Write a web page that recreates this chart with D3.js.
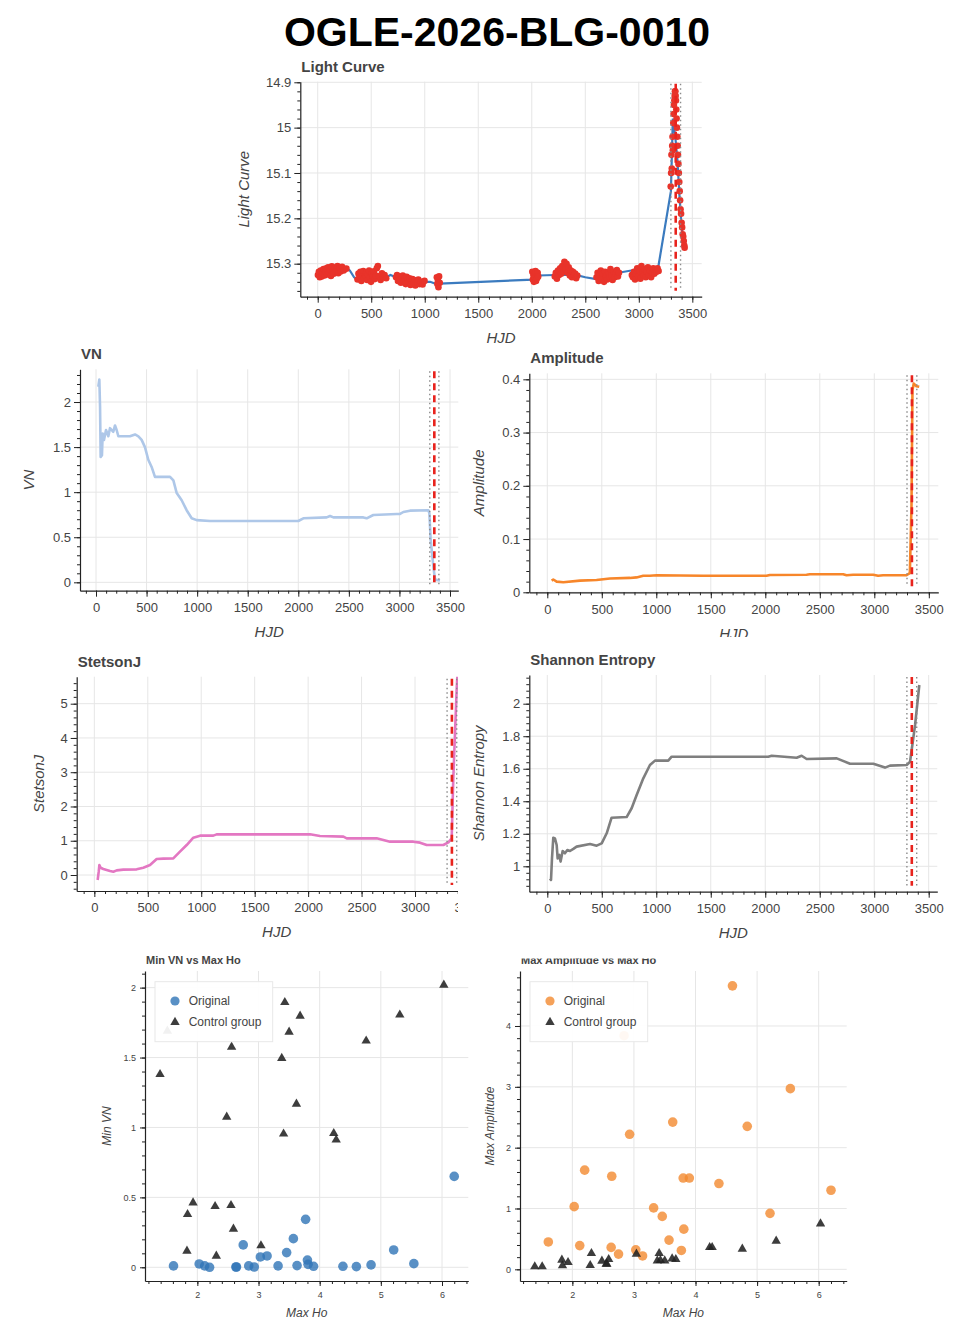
<!DOCTYPE html>
<html>
<head>
<meta charset="utf-8">
<script src="https://cdn.jsdelivr.net/npm/d3@7"></script>
<style>
body { margin: 0; background: #fff; }
text { font-family: "Liberation Sans", Arial, Helvetica, sans-serif; }
</style>
</head>
<body>
<svg id="chart" width="970" height="1337"></svg>
<script>
// ---- light curve: observed points (HJD, magnitude) ----
var lcHJD = [
	2, 11, 19, 28, 37, 45, 54, 63, 71, 80, 89, 97, 106, 115, 124, 132, 141, 150, 158, 167, 176, 185, 193, 202, 214, 228, 243, 268,
	372, 381, 390, 399, 408, 417, 426, 435, 444, 453, 462, 471, 480, 489, 498, 507, 516, 525, 534, 543, 552, 562, 575, 588, 600, 612, 625, 640,
	732, 741, 750, 759, 768, 777, 786, 795, 804, 813, 822, 831, 840, 849, 858, 867, 876, 885, 894, 903, 912, 921, 930, 940, 952, 965, 980, 998,
	1113, 1118, 1123, 1128, 1134, 1140,
	2005, 2010, 2015, 2020, 2025, 2030, 2035, 2040, 2045, 2050, 2055, 2060,
	2215, 2225, 2235, 2245, 2255, 2265, 2275, 2285, 2295, 2305, 2315, 2325, 2335, 2345, 2355, 2365, 2375, 2385, 2395, 2405, 2415, 2425,
	2605, 2615, 2625, 2635, 2645, 2655, 2665, 2675, 2685, 2695, 2705, 2715, 2725, 2735, 2745, 2755, 2765, 2775, 2785, 2795, 2805, 2815,
	2935, 2945, 2955, 2965, 2975, 2985, 2995, 3005, 3015, 3025, 3035, 3045, 3055, 3065, 3075, 3085, 3095, 3105, 3115, 3125, 3135, 3145, 3155, 3165, 3175, 3185,
	3298, 3302, 3305, 3308, 3312, 3315, 3318, 3322, 3325, 3328, 3332, 3335, 3338, 3341, 3344, 3347, 3350, 3353, 3356, 3360, 3363, 3366, 3370, 3374, 3378, 3382, 3386, 3390, 3395, 3400, 3405, 3410, 3415, 3420, 3425, 3428
];
var lcMag = [
	15.325, 15.318, 15.33, 15.315, 15.328, 15.32, 15.312, 15.326, 15.317, 15.31, 15.324, 15.308, 15.319, 15.314, 15.327, 15.306, 15.316, 15.322, 15.309, 15.318, 15.313, 15.305, 15.321, 15.31, 15.317, 15.307, 15.315, 15.311,
	15.335, 15.322, 15.33, 15.318, 15.338, 15.325, 15.316, 15.332, 15.327, 15.32, 15.336, 15.324, 15.315, 15.33, 15.34, 15.322, 15.328, 15.317, 15.334, 15.326, 15.31, 15.305, 15.328, 15.336, 15.321, 15.33, 15.325, 15.332,
	15.33, 15.325, 15.338, 15.328, 15.335, 15.342, 15.33, 15.326, 15.338, 15.333, 15.345, 15.329, 15.336, 15.341, 15.332, 15.347, 15.338, 15.334, 15.344, 15.336, 15.348, 15.339, 15.342, 15.335, 15.345, 15.34, 15.346, 15.338,
	15.33, 15.345, 15.338, 15.352, 15.328, 15.342,
	15.318, 15.335, 15.325, 15.34, 15.322, 15.33, 15.316, 15.338, 15.327, 15.332, 15.32, 15.328,
	15.328, 15.32, 15.333, 15.315, 15.325, 15.31, 15.322, 15.305, 15.318, 15.296, 15.312, 15.3, 15.32, 15.308, 15.326, 15.315, 15.33, 15.318, 15.325, 15.322, 15.332, 15.326,
	15.33, 15.32, 15.338, 15.325, 15.315, 15.333, 15.322, 15.34, 15.318, 15.328, 15.335, 15.32, 15.33, 15.312, 15.326, 15.336, 15.318, 15.33, 15.322, 15.314, 15.328, 15.32,
	15.325, 15.33, 15.318, 15.335, 15.322, 15.31, 15.328, 15.316, 15.333, 15.305, 15.32, 15.326, 15.312, 15.33, 15.318, 15.308, 15.325, 15.315, 15.33, 15.32, 15.31, 15.322, 15.314, 15.318, 15.31, 15.316,
	15.13, 15.10, 15.06, 15.09, 15.04, 15.02, 15.05, 14.99, 14.97, 14.95, 14.94, 14.93, 14.92, 14.92, 14.93, 14.94, 14.96, 14.98, 15.00, 15.02, 15.04, 15.06, 15.08, 15.10, 15.12, 15.14, 15.16, 15.18, 15.19, 15.21, 15.22, 15.235, 15.24, 15.25, 15.26, 15.265
];
// blue model line through the light curve
var lineHJD = [0, 100, 200, 270, 300, 340, 370, 640, 680, 730, 1000, 1050, 1110, 1140, 2010, 2060, 2220, 2400, 2500, 2600, 2810, 2930, 3180, 3300, 3318, 3330, 3345, 3360, 3380, 3400, 3425];
var lineMag = [15.322, 15.318, 15.312, 15.31, 15.315, 15.33, 15.335, 15.33, 15.325, 15.33, 15.34, 15.34, 15.345, 15.344, 15.335, 15.326, 15.325, 15.324, 15.33, 15.334, 15.32, 15.315, 15.31, 15.14, 14.98, 15.0, 15.03, 15.07, 15.15, 15.22, 15.26];

// ---- running features vs HJD ----
var vnHJD = [23, 33, 40, 46, 59, 66, 79, 99, 122, 138, 171, 188, 204, 221, 336, 386, 419, 451, 484, 517, 550, 583, 732, 765, 798, 847, 896, 946, 995, 1127, 1457, 2000, 2050, 2281, 2314, 2347, 2643, 2676, 2742, 2973, 3006, 3039, 3104, 3286, 3296, 3309, 3336, 3352, 3401];
var vnVal = [2.17, 2.25, 1.95, 1.39, 1.41, 1.65, 1.58, 1.69, 1.62, 1.71, 1.67, 1.74, 1.69, 1.62, 1.62, 1.64, 1.62, 1.58, 1.50, 1.36, 1.28, 1.17, 1.17, 1.13, 0.99, 0.91, 0.80, 0.71, 0.69, 0.68, 0.68, 0.68, 0.71, 0.72, 0.736, 0.72, 0.72, 0.71, 0.747, 0.758, 0.758, 0.78, 0.795, 0.80, 0.765, 0.47, 0.17, 0.03, 0.02];

var ampHJD = [40, 55, 86, 147, 300, 452, 575, 758, 819, 880, 941, 1003, 1431, 2011, 2042, 2378, 2409, 2714, 2745, 2806, 2990, 3035, 3081, 3295, 3326, 3341, 3350, 3362, 3387, 3412];
var ampVal = [0.022, 0.024, 0.020, 0.019, 0.022, 0.023, 0.026, 0.027, 0.028, 0.031, 0.031, 0.032, 0.031, 0.031, 0.0326, 0.033, 0.034, 0.034, 0.032, 0.033, 0.033, 0.031, 0.032, 0.032, 0.036, 0.161, 0.38, 0.392, 0.387, 0.386];

var stetHJD = [31, 41, 47, 59, 84, 115, 147, 178, 209, 271, 396, 458, 521, 583, 645, 739, 801, 864, 926, 989, 1113, 1144, 2018, 2111, 2330, 2361, 2641, 2766, 2984, 3047, 3109, 3265, 3312, 3343, 3358, 3390, 3420];
var stetVal = [-0.146, 0.097, 0.29, 0.21, 0.175, 0.146, 0.117, 0.097, 0.136, 0.156, 0.165, 0.214, 0.29, 0.467, 0.477, 0.486, 0.68, 0.875, 1.09, 1.148, 1.148, 1.187, 1.187, 1.138, 1.12, 1.07, 1.07, 0.973, 0.973, 0.944, 0.875, 0.875, 0.953, 1.07, 2.82, 5.45, 7.2];

var shanHJD = [24, 34, 43, 55, 70, 86, 95, 110, 122, 141, 162, 184, 208, 239, 269, 392, 453, 499, 545, 590, 728, 774, 820, 881, 942, 988, 1110, 1141, 2028, 2059, 2288, 2334, 2380, 2656, 2778, 2992, 3099, 3145, 3298, 3329, 3375, 3414];
var shanVal = [0.926, 0.916, 1.049, 1.176, 1.172, 1.131, 1.049, 1.07, 1.029, 1.094, 1.08, 1.10, 1.094, 1.107, 1.121, 1.137, 1.127, 1.141, 1.203, 1.299, 1.303, 1.357, 1.439, 1.541, 1.623, 1.65, 1.65, 1.674, 1.674, 1.68, 1.668, 1.68, 1.66, 1.664, 1.631, 1.631, 1.607, 1.619, 1.623, 1.643, 1.869, 2.115];

// event markers: dotted window and dashed peak
var windowHJD = [3300, 3390];
var peakHJD = [3345];

// ---- scatter: original events ----
var origMaxHo = [1.61, 2.03, 2.12, 2.20, 2.63, 2.64, 2.75, 2.84, 2.93, 3.03, 3.14, 3.32, 3.46, 3.57, 3.63, 3.77, 3.80, 3.81, 3.90, 4.38, 4.60, 4.84, 5.21, 5.54, 6.20];
var origMinVN = [0.01, 0.024, 0.01, 0.0, 0.002, 0.002, 0.16, 0.01, 0.002, 0.074, 0.081, 0.01, 0.105, 0.205, 0.012, 0.343, 0.052, 0.021, 0.007, 0.007, 0.005, 0.017, 0.124, 0.026, 0.65];
var origMaxAmp = [0.45, 1.03, 0.39, 1.63, 0.36, 1.53, 0.25, 3.84, 2.22, 0.32, 0.22, 1.01, 0.87, 0.48, 2.42, 0.31, 1.50, 0.66, 1.50, 1.41, 4.66, 2.35, 0.92, 2.97, 1.30];
// ---- scatter: control group ----
var ctrlMaxHo = [1.39, 1.51, 1.83, 1.84, 1.93, 2.29, 2.31, 2.48, 2.55, 2.56, 2.59, 3.04, 3.38, 3.41, 3.43, 3.50, 3.62, 3.68, 4.23, 4.27, 4.76, 5.31, 6.03];
var ctrlMinVN = [1.38, 1.69, 0.117, 0.379, 0.462, 0.436, 0.081, 1.075, 0.443, 1.576, 0.274, 0.155, 1.495, 0.954, 1.895, 1.683, 1.168, 1.797, 0.958, 0.911, 1.619, 1.805, 2.019];
var ctrlMaxAmp = [0.044, 0.044, 0.153, 0.06, 0.115, 0.066, 0.263, 0.137, 0.088, 0.088, 0.164, 0.252, 0.142, 0.263, 0.148, 0.142, 0.175, 0.164, 0.36, 0.36, 0.334, 0.466, 0.75];

// ---- tick values ----
var hjdTicks = [0, 500, 1000, 1500, 2000, 2500, 3000, 3500];
var lcTicks = [14.9, 15, 15.1, 15.2, 15.3];
var vnTicks = [0, 0.5, 1, 1.5, 2];
var ampTicks = [0, 0.1, 0.2, 0.3, 0.4];
var stetTicks = [0, 1, 2, 3, 4, 5];
var shanTicks = [1, 1.2, 1.4, 1.6, 1.8, 2];
var hoTicks = [2, 3, 4, 5, 6];
var minVNTicks = [0, 0.5, 1, 1.5, 2];
var maxAmpTicks = [0, 1, 2, 3, 4];

var svg = d3.select('#chart');
var fmt = function (d) { return String(+d.toFixed(3)); };
var clipId = 0;

function zip(xs, ys) {
	var out = [];
	for (var i = 0; i < xs.length; i++) out.push([xs[i], ys[i]]);
	return out;
}

function minorTicks(dom, step) {
	var lo = Math.min(dom[0], dom[1]), hi = Math.max(dom[0], dom[1]);
	var out = [];
	for (var v = Math.ceil(lo / step) * step; v <= hi + 1e-9; v += step) out.push(+v.toFixed(6));
	return out;
}

function clipped(g, x, y, w, h) {
	var id = 'clip' + (clipId++);
	svg.append('clipPath').attr('id', id).append('rect')
		.attr('x', x).attr('y', y).attr('width', w).attr('height', h);
	return g.attr('clip-path', 'url(#' + id + ')');
}

// common frame: grid, axes, titles
function frame(p) {
	var g = svg.append('g');
	if (p.clip) clipped(g, p.clip[0], p.clip[1], p.clip[2], p.clip[3]);
	var x = d3.scaleLinear().domain(p.xd).range([p.l, p.r]);
	var y = d3.scaleLinear().domain(p.yd).range([p.b, p.t]);
	var grid = g.append('g').attr('stroke', '#e6e6e6').attr('stroke-width', 1);
	grid.selectAll('.gx').data(p.xTicks).join('line')
		.attr('x1', function (d) { return x(d); }).attr('x2', function (d) { return x(d); })
		.attr('y1', p.t).attr('y2', p.b);
	grid.selectAll('.gy').data(p.yTicks).join('line')
		.attr('y1', function (d) { return y(d); }).attr('y2', function (d) { return y(d); })
		.attr('x1', p.l).attr('x2', p.r);

	var fs = p.small ? 9 : 13;
	g.append('g').attr('transform', 'translate(0,' + p.b + ')')
		.call(d3.axisBottom(x).tickValues(p.xTicks).tickSizeInner(p.small ? 5 : 6).tickSizeOuter(0).tickPadding(6).tickFormat(fmt));
	g.append('g').attr('transform', 'translate(0,' + p.b + ')')
		.call(d3.axisBottom(x).tickValues(minorTicks(p.xd, p.xMinor)).tickSize(3).tickFormat(''))
		.select('.domain').remove();
	g.append('g').attr('transform', 'translate(' + p.l + ',0)')
		.call(d3.axisLeft(y).tickValues(p.yTicks).tickSizeInner(p.small ? 5 : 6).tickSizeOuter(0).tickPadding(p.small ? 4 : 3).tickFormat(fmt));
	g.append('g').attr('transform', 'translate(' + p.l + ',0)')
		.call(d3.axisLeft(y).tickValues(minorTicks(p.yd, p.yMinor)).tickSize(3).tickFormat(''))
		.select('.domain').remove();
	g.selectAll('.tick line').attr('stroke', '#222');
	g.selectAll('.domain').attr('stroke', '#222').attr('stroke-width', 1.2);
	g.selectAll('.tick text').attr('font-size', fs).attr('fill', '#444')
		.attr('font-family', '"Liberation Sans", Arial, sans-serif');

	g.append('text').attr('x', p.l + 1).attr('y', p.t - (p.small ? 7 : 10))
		.attr('font-size', p.small ? 11 : 15).attr('font-weight', 'bold').attr('fill', '#444')
		.text(p.title);
	g.append('text').attr('transform', 'translate(' + (p.l + p.ylabDx) + ',' + ((p.t + p.b) / 2) + ') rotate(-90)')
		.attr('text-anchor', 'middle').attr('dy', '0.35em')
		.attr('font-size', p.small ? 12 : 15).attr('font-style', 'italic').attr('fill', '#444')
		.text(p.ylabel);
	g.append('text').attr('x', (p.l + p.r) / 2).attr('y', p.b + p.xlabDy)
		.attr('text-anchor', 'middle').attr('dy', '0.35em')
		.attr('font-size', p.small ? 12 : 15).attr('font-style', 'italic').attr('fill', '#444')
		.text(p.xlabel);

	var plot = g.append('g');
	clipped(plot, p.l, p.t, p.r - p.l, p.b - p.t);
	return { x: x, y: y, g: g, plot: plot };
}

function eventLines(f, p) {
	f.plot.selectAll('.win').data(windowHJD).join('line')
		.attr('x1', function (d) { return f.x(d); }).attr('x2', function (d) { return f.x(d); })
		.attr('y1', p.t + 2).attr('y2', p.b - 6)
		.attr('stroke', '#8a8a8a').attr('stroke-width', 1.4).attr('stroke-dasharray', '1.5,3');
	f.plot.selectAll('.pk').data(peakHJD).join('line')
		.attr('x1', function (d) { return f.x(d); }).attr('x2', function (d) { return f.x(d); })
		.attr('y1', p.t + 2).attr('y2', p.b - 6)
		.attr('stroke', '#e8231d').attr('stroke-width', 2.6).attr('stroke-dasharray', '7,5');
}

function linePanel(p, xs, ys, color) {
	var f = frame(p);
	var line = d3.line().x(function (d) { return f.x(d[0]); }).y(function (d) { return f.y(d[1]); });
	f.plot.append('path').datum(zip(xs, ys)).attr('d', line)
		.attr('fill', 'none').attr('stroke', color).attr('stroke-width', 2.6)
		.attr('stroke-linejoin', 'round');
	eventLines(f, p);
}

var hjdBase = { xTicks: hjdTicks, xMinor: 100, xlabel: 'HJD', xlabDy: 41 };

// Light curve
(function () {
	var p = Object.assign({}, hjdBase, {
		l: 300.3, r: 701.7, t: 81.7, b: 296.7, xd: [-162.6, 3587.6], yd: [15.3728, 14.8987],
		yTicks: lcTicks, yMinor: 0.02, title: 'Light Curve', ylabel: 'Light Curve', ylabDx: -57
	});
	var f = frame(p);
	var line = d3.line().x(function (d) { return f.x(d[0]); }).y(function (d) { return f.y(d[1]); });
	f.plot.append('path').datum(zip(lineHJD, lineMag)).attr('d', line)
		.attr('fill', 'none').attr('stroke', '#3b7bbf').attr('stroke-width', 2.2);
	f.plot.selectAll('circle').data(zip(lcHJD, lcMag)).join('circle')
		.attr('cx', function (d) { return f.x(d[0]); }).attr('cy', function (d) { return f.y(d[1]); })
		.attr('r', 3.3).attr('fill', '#e8332a');
	eventLines(f, p);
})();

linePanel(Object.assign({}, hjdBase, {
	l: 80, r: 458.3, t: 369.3, b: 590.7, xd: [-158.2, 3582], yd: [-0.093, 2.363],
	yTicks: vnTicks, yMinor: 0.1, title: 'VN', ylabel: 'VN', ylabDx: -51
}), vnHJD, vnVal, '#aec7e8');

linePanel(Object.assign({}, hjdBase, {
	l: 529.3, r: 938.3, t: 373.3, b: 592.3, xd: [-165, 3587], yd: [0, 0.4113],
	yTicks: ampTicks, yMinor: 0.02, title: 'Amplitude', ylabel: 'Amplitude', ylabDx: -51,
	clip: [470, 330, 500, 307]
}), ampHJD, ampVal, '#f7862a');

linePanel(Object.assign({}, hjdBase, {
	l: 76.7, r: 476.7, t: 676.7, b: 891, xd: [-165, 3577], yd: [-0.467, 5.788],
	yTicks: stetTicks, yMinor: 0.2, title: 'StetsonJ', ylabel: 'StetsonJ', ylabDx: -38,
	clip: [0, 640, 458, 320]
}), stetHJD, stetVal, '#e377c2');

linePanel(Object.assign({}, hjdBase, {
	l: 529.3, r: 937.3, t: 675, b: 891.7, xd: [-165.2, 3579], yd: [0.8438, 2.1765],
	yTicks: shanTicks, yMinor: 0.04, title: 'Shannon Entropy', ylabel: 'Shannon Entropy', ylabDx: -51
}), shanHJD, shanVal, '#7f7f7f');

// scatter panels
function scatterPanel(p, origY, ctrlY, origColor) {
	var f = frame(Object.assign({ small: true, xTicks: hoTicks, xMinor: 0.2, xlabel: 'Max Ho', xlabDy: 32 }, p));
	f.plot.selectAll('circle').data(zip(origMaxHo, origY)).join('circle')
		.attr('cx', function (d) { return f.x(d[0]); }).attr('cy', function (d) { return f.y(d[1]); })
		.attr('r', 4.8).attr('fill', origColor).attr('fill-opacity', 0.8);
	var tri = d3.symbol(d3.symbolTriangle, 38);
	f.plot.selectAll('.tri').data(zip(ctrlMaxHo, ctrlY)).join('path')
		.attr('transform', function (d) { return 'translate(' + f.x(d[0]) + ',' + f.y(d[1]) + ')'; })
		.attr('d', tri).attr('fill', '#222').attr('fill-opacity', 0.88);

	var lg = f.g.append('g').attr('transform', 'translate(' + (p.l + 10) + ',' + (p.t + 10.7) + ')');
	lg.append('rect').attr('width', 117.7).attr('height', 60)
		.attr('fill', '#fff').attr('fill-opacity', 0.93).attr('stroke', '#e8e8e8');
	lg.append('circle').attr('cx', 20).attr('cy', 19.3).attr('r', 4.6).attr('fill', origColor).attr('fill-opacity', 0.8);
	lg.append('path').attr('transform', 'translate(20,40.5)').attr('d', tri).attr('fill', '#222').attr('fill-opacity', 0.88);
	lg.append('text').attr('x', 33.7).attr('y', 19.3).attr('dy', '0.35em').attr('font-size', 12).attr('fill', '#444').text('Original');
	lg.append('text').attr('x', 33.7).attr('y', 40.5).attr('dy', '0.35em').attr('font-size', 12).attr('fill', '#444').text('Control group');
}

scatterPanel({
	l: 145, r: 468.3, t: 971, b: 1281, xd: [1.144, 6.43], yd: [-0.098, 2.119],
	yTicks: minVNTicks, yMinor: 0.1, title: 'Min VN vs Max Ho', ylabel: 'Min VN', ylabDx: -38
}, origMinVN, ctrlMinVN, '#2f74b6');

scatterPanel({
	l: 520, r: 846.7, t: 971, b: 1281, xd: [1.150, 6.455], yd: [-0.192, 4.904],
	yTicks: maxAmpTicks, yMinor: 0.2, title: 'Max Amplitude vs Max Ho', ylabel: 'Max Amplitude', ylabDx: -30,
	clip: [470, 958.5, 480, 380]
}, origMaxAmp, ctrlMaxAmp, '#f28a30');

// main title
svg.append('text').attr('x', 497).attr('y', 46).attr('text-anchor', 'middle')
	.attr('font-size', 41).attr('font-weight', 'bold').attr('fill', '#000')
	.text('OGLE-2026-BLG-0010');
</script>
</body>
</html>
